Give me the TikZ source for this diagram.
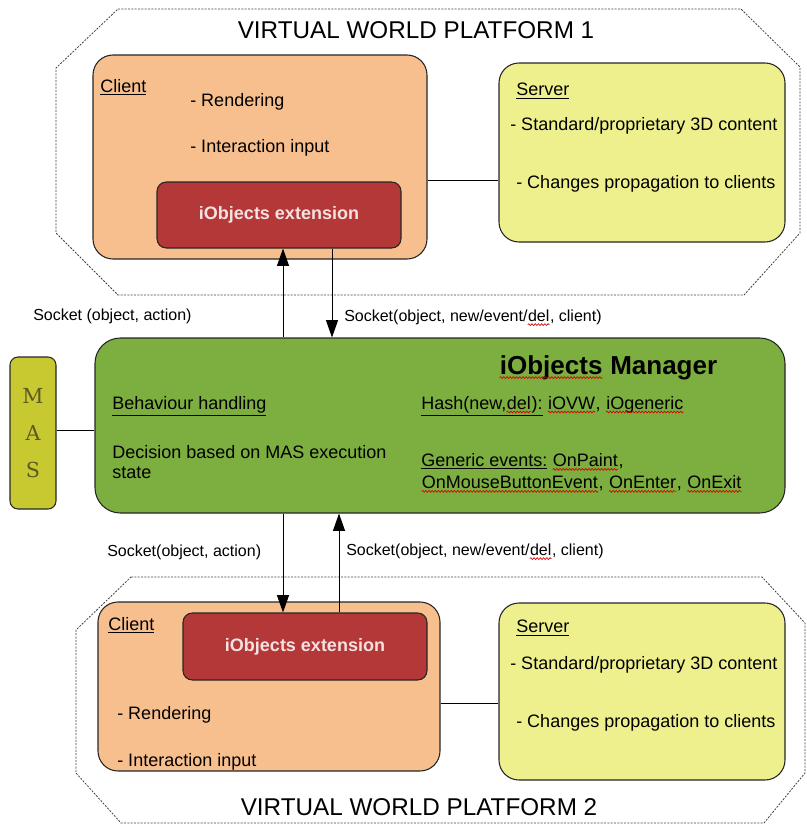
\documentclass[tikz,border=0pt]{standalone}
\usepackage{fontspec}
\setmainfont{Liberation Sans}
\newfontfamily\masfont{DejaVu Serif}
\usetikzlibrary{arrows.meta, decorations.pathmorphing}

\definecolor{clientfill}{RGB}{248,191,142}
\definecolor{extfill}{RGB}{180,56,56}
\definecolor{exttext}{RGB}{245,225,225}
\definecolor{serverfill}{RGB}{238,240,142}
\definecolor{managerfill}{RGB}{124,174,64}
\definecolor{masfill}{RGB}{200,200,48}
\definecolor{mastext}{RGB}{90,90,35}

\newcommand\px{0.75pt}
% red wavy spell-check underline
\newcommand\spell[1]{\tikz[baseline=(w.base)]{\node[inner sep=0pt, anchor=base] (w) {#1};
    \draw[red!85!black, line width=0.5pt, decorate,
        decoration={snake, amplitude=0.7pt, segment length=2.4pt}]
        ([yshift=-2.2pt]w.base west) -- ([yshift=-2.2pt]w.base east);}}

\begin{document}
\begin{tikzpicture}[x=0.75pt, y=-0.75pt,
    box/.style={draw=black!85, line width=0.8pt, inner sep=0pt},
    txt/.style={anchor=west, inner sep=0pt, font=\fontsize{13.5}{16}\selectfont},
    sock/.style={txt, font=\fontsize{12}{14}\selectfont},
    title/.style={inner sep=0pt, font=\fontsize{18.2}{20}\selectfont},
    frame/.style={draw=black!75, line width=0.6pt, dash pattern=on 1.5pt off 1pt},
    link/.style={draw=black, line width=0.75pt},
    arr/.style={link, -{Triangle[length=13pt, width=9pt]}}
]
    \useasboundingbox (0,0) rectangle (807,826);

    % platform frames
    \draw[frame] (118,9) -- (741,9) -- (800,67) -- (800,233) -- (744,295)
        -- (118,295) -- (56,233) -- (56,68) -- cycle;
    \draw[frame] (131,577) -- (762,577) -- (805,623) -- (805,773) -- (764,823)
        -- (121,823) -- (76,773) -- (76,630) -- cycle;
    \node[title] (vw1) at (416,30) {VIRTUAL WORLD PLATFORM 1};
    \node[title] (vw2) at (419,807) {VIRTUAL WORLD PLATFORM 2};

    % platform 1
    \node[box, fill=clientfill, rounded corners=15pt,
        minimum width=334*\px, minimum height=204*\px] (client1) at (260,157) {};
    \node[box, fill=serverfill, rounded corners=15pt,
        minimum width=286*\px, minimum height=179*\px] (server1) at (642,152.5) {};
    \node[box, fill=extfill, rounded corners=7pt, text=exttext,
        font=\fontsize{13.5}{16}\selectfont\bfseries,
        minimum width=244*\px, minimum height=66*\px] (ext1) at (279,215) {iObjects extension};
    \node[txt] (c1) at (100,87) {\underline{Client}};
    \node[txt] (c1a) at (190,102) {- Rendering};
    \node[txt] (c1b) at (190,148) {- Interaction input};
    \node[txt] (s1) at (516,91) {\underline{Server}};
    \node[txt] (s1a) at (510,126) {- Standard/proprietary 3D content};
    \node[txt] (s1b) at (516,184) {- Changes propagation to clients};
    \draw[link] (client1.east |- 0,180) -- (server1.west |- 0,180);

    % manager
    \node[box, fill=managerfill, rounded corners=19pt,
        minimum width=690*\px, minimum height=175*\px] (manager) at (440,425.5) {};
    \node[box, fill=masfill, rounded corners=6pt, text=mastext, align=center,
        font=\masfont\fontsize{15.5}{28}\selectfont,
        minimum width=46*\px, minimum height=152*\px] (mas) at (33,433) {M\\A\\S};
    \draw[link] (mas.east |- 0,430) -- (manager.west |- 0,430);
    \node[txt, font=\fontsize{19.5}{22}\selectfont\bfseries] (mtitle) at (499,368) {\spell{iObjects} Manager};
    \node[txt] (m1) at (112,406) {\underline{Behaviour handling}};
    \node[txt] (m2) at (112,452) {Decision based on MAS execution};
    \node[txt] (m3) at (112,473) {state};
    \node[txt] (m4) at (421,406) {\underline{Hash(new,\spell{del}):} \spell{iOVW}, \spell{iOgeneric}};
    \node[txt] (m5) at (421,462) {\underline{Generic events:} \spell{OnPaint},};
    \node[txt] (m6) at (421,484) {\spell{OnMouseButtonEvent}, \spell{OnEnter}, \spell{OnExit}};

    % platform 2
    \node[box, fill=clientfill, rounded corners=15pt,
        minimum width=342*\px, minimum height=169*\px] (client2) at (269,686.5) {};
    \node[box, fill=serverfill, rounded corners=15pt,
        minimum width=286*\px, minimum height=177*\px] (server2) at (642,691.5) {};
    \node[box, fill=extfill, rounded corners=7pt, text=exttext,
        font=\fontsize{13.5}{16}\selectfont\bfseries,
        minimum width=244*\px, minimum height=67*\px] (ext2) at (305,646.5) {iObjects extension};
    \node[txt] (c2) at (108,625) {\underline{Client}};
    \node[txt] (c2a) at (117,715) {- Rendering};
    \node[txt] (c2b) at (117,762) {- Interaction input};
    \node[txt] (s2) at (516,628) {\underline{Server}};
    \node[txt] (s2a) at (510,665) {- Standard/proprietary 3D content};
    \node[txt] (s2b) at (516,723) {- Changes propagation to clients};
    \draw[link] (client2.east |- 0,703) -- (server2.west |- 0,703);

    % sockets
    \draw[arr] (manager.north -| 283,0) -- (ext1.south -| 283,0);
    \draw[arr] (ext1.south -| 332,0) -- (manager.north -| 332,0);
    \draw[arr] (manager.south -| 283,0) -- (ext2.north -| 283,0);
    \draw[arr] (ext2.north -| 339,0) -- (manager.south -| 339,0);
    \node[sock] (k1) at (33,316) {Socket (object, action)};
    \node[sock] (k2) at (344,318) {Socket(object, new/event/\spell{del}, client)};
    \node[sock] (k3) at (107,552) {Socket(object, action)};
    \node[sock] (k4) at (346,552) {Socket(object, new/event/\spell{del}, client)};
\end{tikzpicture}
\end{document}
